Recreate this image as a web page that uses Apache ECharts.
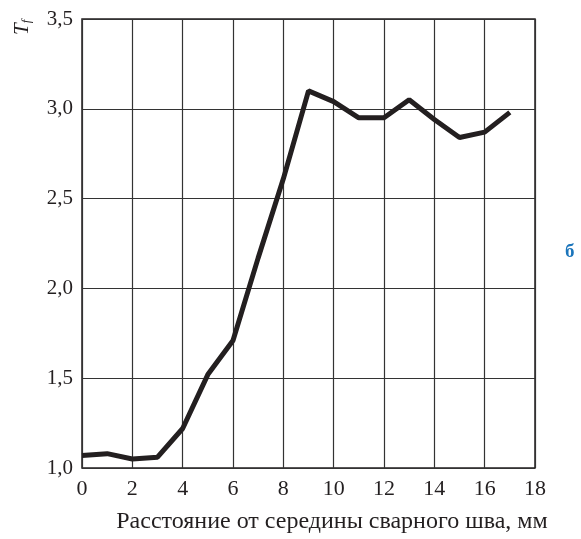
<!DOCTYPE html>
<html><head><meta charset="utf-8">
<script src="https://cdn.jsdelivr.net/npm/echarts@6/dist/echarts.min.js"></script>
<style>html,body{margin:0;padding:0;background:#fff}#c{width:581px;height:539px}</style>
</head><body><div id="c"></div>
<script>
var xValues = [0,1,2,3,4,5,6,7,8,9,10,11,12,13,14,15,16,17];
var tfValues = [1.07,1.08,1.05,1.06,1.22,1.52,1.71,2.17,2.61,3.10,3.04,2.95,2.95,3.05,2.94,2.84,2.87,2.98];
var xTitle = 'Расстояние от середины сварного шва, мм';
var panelLabel = 'б';
var font = '"Liberation Serif","DejaVu Serif",serif';
var chart = echarts.init(document.getElementById('c'));
chart.setOption({
  animation:false,
  grid:{left:82,right:46,top:19,bottom:67,show:true,borderColor:'#231f20',borderWidth:1.5},
  xAxis:{type:'value',min:0,max:18,interval:2,
    axisLine:{show:false},axisTick:{show:false},
    axisLabel:{color:'#231f20',fontFamily:font,fontSize:22,margin:10},
    splitLine:{show:true,lineStyle:{color:'#333',width:1.2}},
    name:xTitle,nameLocation:'middle',nameGap:42,
    nameTextStyle:{color:'#231f20',fontFamily:font,fontSize:24,padding:[0,0,0,47]}},
  yAxis:{type:'value',min:1.0,max:3.5,interval:0.5,
    axisLine:{show:false},axisTick:{show:false},
    axisLabel:{color:'#231f20',fontFamily:font,fontSize:21,margin:9,padding:[8,0,0,0],
      formatter:function(v){return v.toFixed(1).replace('.',',');}},
    splitLine:{show:true,lineStyle:{color:'#333',width:1.2}}},
  graphic:[
    {type:'text',x:12,y:35,rotation:Math.PI/2,
     style:{text:'{t|T}{f|f}',rich:{t:{fontFamily:font,fontStyle:'italic',fontSize:21,fill:'#231f20'},f:{fontFamily:font,fontStyle:'italic',fontSize:13,fill:'#231f20',verticalAlign:'bottom'}}}},
    {type:'text',left:565,top:243,style:{text:panelLabel,fontFamily:font,fontWeight:'bold',fontSize:19,fill:'#1b75bb'}}
  ],
  series:[{type:'line',data:xValues.map(function(x,i){return [x,tfValues[i]];}),
    showSymbol:false,lineStyle:{color:'#231f20',width:5},z:5}]
});
</script></body></html>
